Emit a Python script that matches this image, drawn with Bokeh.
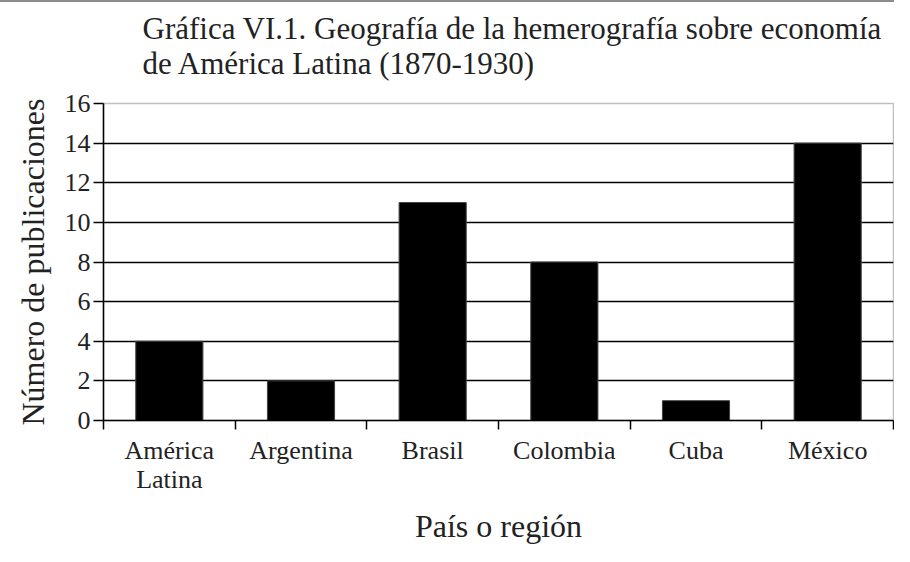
from bokeh.plotting import figure
from bokeh.models import Range1d, FixedTicker, Title
from bokeh.embed import file_html
from bokeh.resources import INLINE

categories = ["América\nLatina", "Argentina", "Brasil", "Colombia", "Cuba", "México"]
counts = [4, 2, 11, 8, 1, 14]
y_ticks = [0, 2, 4, 6, 8, 10, 12, 14, 16]
title_lines = ["Gráfica VI.1. Geografía de la hemerografía sobre economía",
               "de América Latina (1870-1930)"]
x_title = "País o región"
y_title = "Número de publicaciones"

FONT = "Liberation Serif"
TXT = "#222222"

xs = [i + 0.5 for i in range(len(categories))]

p = figure(width=894, height=546, output_backend="svg", toolbar_location=None,
           x_range=Range1d(0, len(categories)), y_range=Range1d(0, 16),
           min_border_left=103, min_border_right=1, min_border_top=101, min_border_bottom=128,
           background_fill_color="white", border_fill_color="white",
           styles={"border-top": "2px solid #8c8c8c"})
p.title = None

xa = p.below[0]
ya = p.left[0]

# second line sits closest to the frame, first line above it
for line, so in zip(reversed(title_lines), [46, -50]):
    t = Title(text=line, align="left", offset=39, text_font=FONT, text_font_size="31px",
              text_font_style="normal", text_color=TXT, standoff=so)
    p.add_layout(t, "above")

p.vbar(x=xs, top=counts, width=0.51, fill_color="black", line_color="#444444", line_width=1)

p.outline_line_color = "#c0c0c0"
p.outline_line_width = 1.5

p.xgrid.grid_line_color = None
p.ygrid.ticker = FixedTicker(ticks=y_ticks)
p.ygrid.grid_line_color = "black"
p.ygrid.grid_line_width = 1.5

xa.ticker = FixedTicker(ticks=xs, minor_ticks=list(range(len(categories) + 1)))
xa.major_label_overrides = {x: c for x, c in zip(xs, categories)}
xa.major_tick_line_color = None
xa.minor_tick_line_color = "black"
xa.minor_tick_line_width = 1.5
xa.minor_tick_out = 9
xa.minor_tick_in = 0
xa.axis_line_color = "black"
xa.axis_line_width = 1.5
xa.major_label_text_font = FONT
xa.major_label_text_font_size = "26px"
xa.major_label_text_color = TXT
xa.major_label_text_line_height = 1.0
xa.major_label_standoff = 6
xa.axis_label = x_title
xa.axis_label_text_font = FONT
xa.axis_label_text_font_size = "32px"
xa.axis_label_text_font_style = "normal"
xa.axis_label_text_color = TXT
xa.axis_label_standoff = 11

ya.ticker = FixedTicker(ticks=y_ticks)
ya.major_tick_line_color = "black"
ya.major_tick_line_width = 1.5
ya.major_tick_out = 10
ya.major_tick_in = 0
ya.minor_tick_line_color = None
ya.axis_line_color = "black"
ya.axis_line_width = 1.5
ya.major_label_text_font = FONT
ya.major_label_text_font_size = "26px"
ya.major_label_text_color = TXT
ya.major_label_standoff = 3
ya.axis_label = y_title
ya.axis_label_text_font = FONT
ya.axis_label_text_font_size = "32px"
ya.axis_label_text_font_style = "normal"
ya.axis_label_text_color = TXT
ya.axis_label_standoff = 11

open("out.html", "w").write(file_html(p, INLINE))
